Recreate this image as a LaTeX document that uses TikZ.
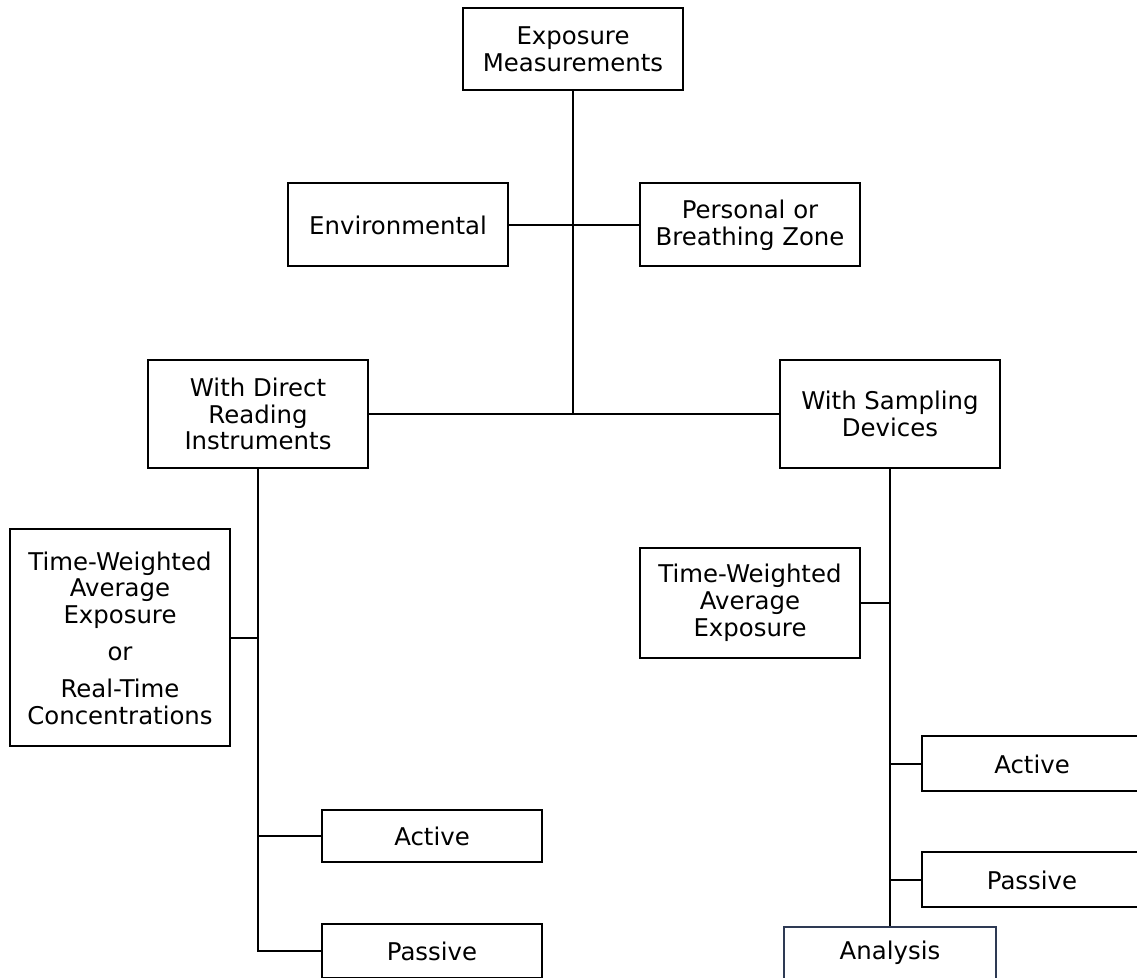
\documentclass[tikz,border=0pt]{standalone}
\usepackage{fontspec}
\setmainfont{DejaVu Sans}
\usepackage{tikz}

\begin{document}
\begin{tikzpicture}[x=0.5pt,y=-0.5pt,
  box/.style={draw,line width=1pt,minimum width=110pt,minimum height=#1,align=center,inner sep=2pt,font=\fontsize{12.2}{13.4}\selectfont},
  box/.default=26pt,
  conn/.style={line width=1pt}]
\useasboundingbox (0,0) rectangle (1137,978);
\clip (0,0) rectangle (1137,978);

%vrh in prva raven
\node[box=41pt] (meas) at (573,49) {Exposure\\Measurements};
\node[box=41.5pt] (env) at (398,225) {Environmental};
\node[box=41.5pt] (pers) at (750,225) {Personal or\\Breathing Zone};
\coordinate (mid) at (573,413);
\draw[conn] (meas.south) -- (mid);
\draw[conn] (env) -- (pers);

%druga raven
\node[box=54pt] (dri) at (258,414) {With Direct\\Reading\\Instruments};
\node[box=54pt] (samp) at (890,414) {With Sampling\\Devices};
\draw[conn] (dri) -- (samp);

%leva veja
\node[box=108.5pt] (ltwa) at (120,638) {Time-Weighted\\Average\\Exposure\\[5pt]or\\[5pt]Real-Time\\Concentrations};
\node[box] (lact) at (432,836) {Active};
\node[box=27pt] (lpas) at (432,951) {Passive};
\draw[conn] (dri.south) |- (lpas.west);
\draw[conn] (ltwa.east) -- (ltwa.east -| dri.south);
\draw[conn] (lact.west) -- (lact.west -| dri.south);

%desna veja
\node[box=55pt] (rtwa) at (750,603) {Time-Weighted\\Average\\Exposure};
\node[box=27.5pt] (ract) at (1032,764) {Active};
\node[box=27.5pt] (rpas) at (1032,880) {Passive};
\node[box=26pt,minimum width=106pt,draw={rgb,255:red,46;green,58;blue,84}] (anal) at (890,953) {Analysis};
\draw[conn] (samp.south) -- (anal.north);
\draw[conn] (rtwa.east) -- (rtwa.east -| samp.south);
\draw[conn] (ract.west) -- (ract.west -| samp.south);
\draw[conn] (rpas.west) -- (rpas.west -| samp.south);

\end{tikzpicture}
\end{document}
